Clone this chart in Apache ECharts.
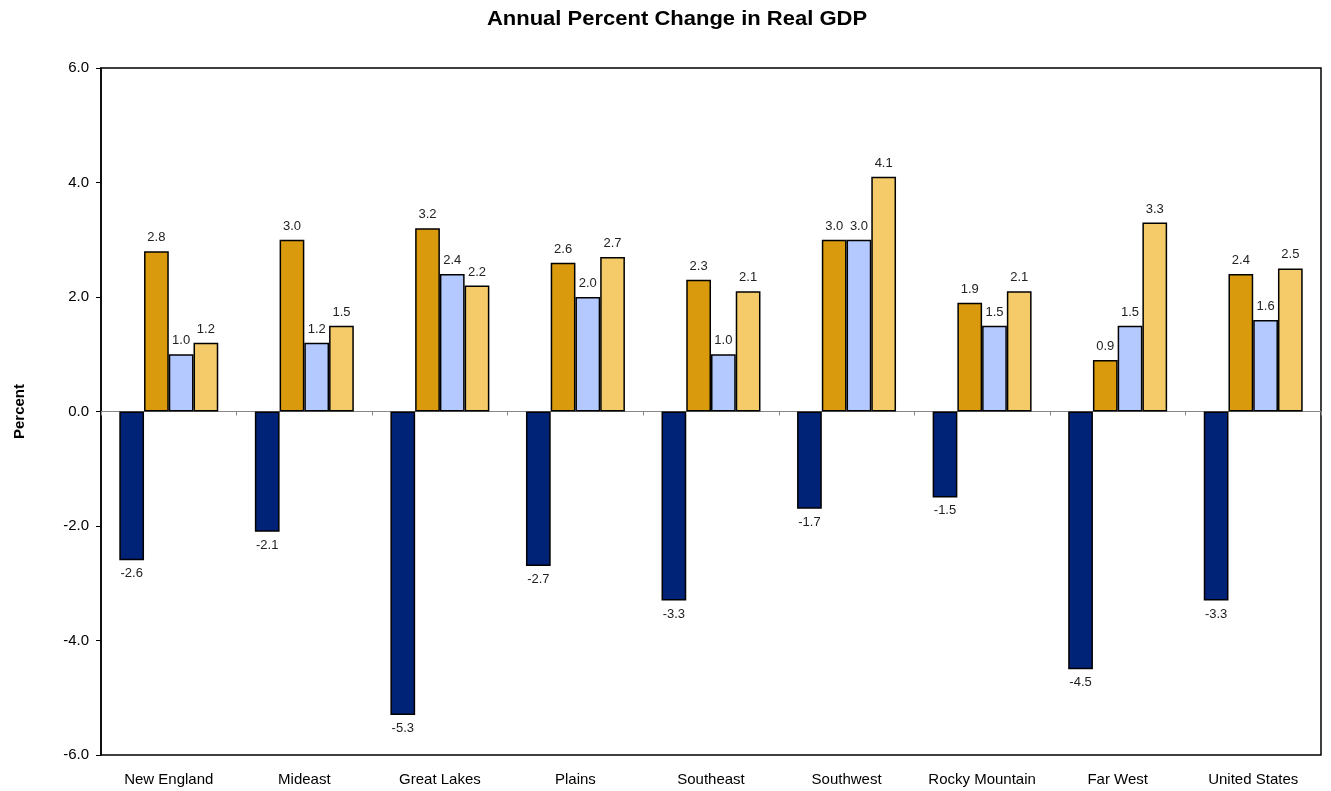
<!DOCTYPE html>
<html>
<head>
<meta charset="utf-8">
<script src="https://cdn.jsdelivr.net/npm/echarts@6/dist/echarts.min.js"></script>
<style>html,body{margin:0;padding:0;background:#fff}#c{width:1331px;height:791px}</style>
</head>
<body>
<div id="c"></div>
<script>
const categories = ["New England","Mideast","Great Lakes","Plains","Southeast","Southwest","Rocky Mountain","Far West","United States"];
const seriesNames = ["2009","2010","2011","2012"];
const s2009 = [-2.6,-2.1,-5.3,-2.7,-3.3,-1.7,-1.5,-4.5,-3.3];
const s2010 = [2.8,3.0,3.2,2.6,2.3,3.0,1.9,0.9,2.4];
const s2011 = [1.0,1.2,2.4,2.0,1.0,3.0,1.5,1.5,1.6];
const s2012 = [1.2,1.5,2.2,2.7,2.1,4.1,2.1,3.3,2.5];
const yTicks = {min:-6, max:6, interval:2};
const titleText = "Annual Percent Change in Real GDP";

const colors = ["#002277","#D99A0E","#B3C9FF","#F5CB6A"];
const allData = [s2009,s2010,s2011,s2012];

function mkData(arr){
  return arr.map(v => ({value:v, label:{position: v < 0 ? 'bottom' : 'top'}}));
}

const chart = echarts.init(document.getElementById('c'));
chart.setOption({
  animation:false,
  graphic:[{type:'text', x:677, y:19, scaleX:1.1, z:10,
    style:{text:titleText, fontFamily:'Liberation Sans, Arial', fontSize:20, fontWeight:'bold', fill:'#000',
      align:'center', verticalAlign:'middle'}}],
  grid:{left:101, right:10, top:68, bottom:36, show:true, borderColor:'#000', borderWidth:1.5, backgroundColor:'#fff'},
  xAxis:[{type:'category', data:categories,
    axisLine:{onZero:true, lineStyle:{color:'#888', width:1}},
    axisTick:{show:true, length:4, lineStyle:{color:'#888'}},
    axisLabel:{show:false}},
    {type:'category', data:categories, position:'bottom',
    axisLine:{show:false}, axisTick:{show:false},
    axisLabel:{interval:0, margin:17, fontFamily:'Liberation Sans, Arial', fontSize:15, color:'#000'}}],
  yAxis:{type:'value', min:yTicks.min, max:yTicks.max, interval:yTicks.interval,
    name:'Percent', nameLocation:'middle', nameGap:74, nameRotate:90,
    nameTextStyle:{fontFamily:'Liberation Sans, Arial', fontSize:15, fontWeight:'bold', color:'#000'},
    axisLine:{show:true, lineStyle:{color:'#000', width:1.5}},
    axisTick:{show:true, length:5, inside:false, lineStyle:{color:'#000'}},
    splitLine:{show:false},
    axisLabel:{margin:12, fontFamily:'Liberation Sans, Arial', fontSize:15, color:'#000',
      formatter: v => v.toFixed(1)}},
  series: allData.map((d,i)=>({
    name:seriesNames[i], type:'bar', data:mkData(d), xAxisIndex:0,
    barCategoryGap:'27%', barGap:'0%',
    itemStyle:{color:colors[i], borderColor:'#000', borderWidth:1.5},
    label:{show:true, fontFamily:'Liberation Sans, Arial', fontSize:13, color:'#222', distance:7,
      formatter: p => p.value.toFixed(1)}
  }))
});
</script>
</body>
</html>
